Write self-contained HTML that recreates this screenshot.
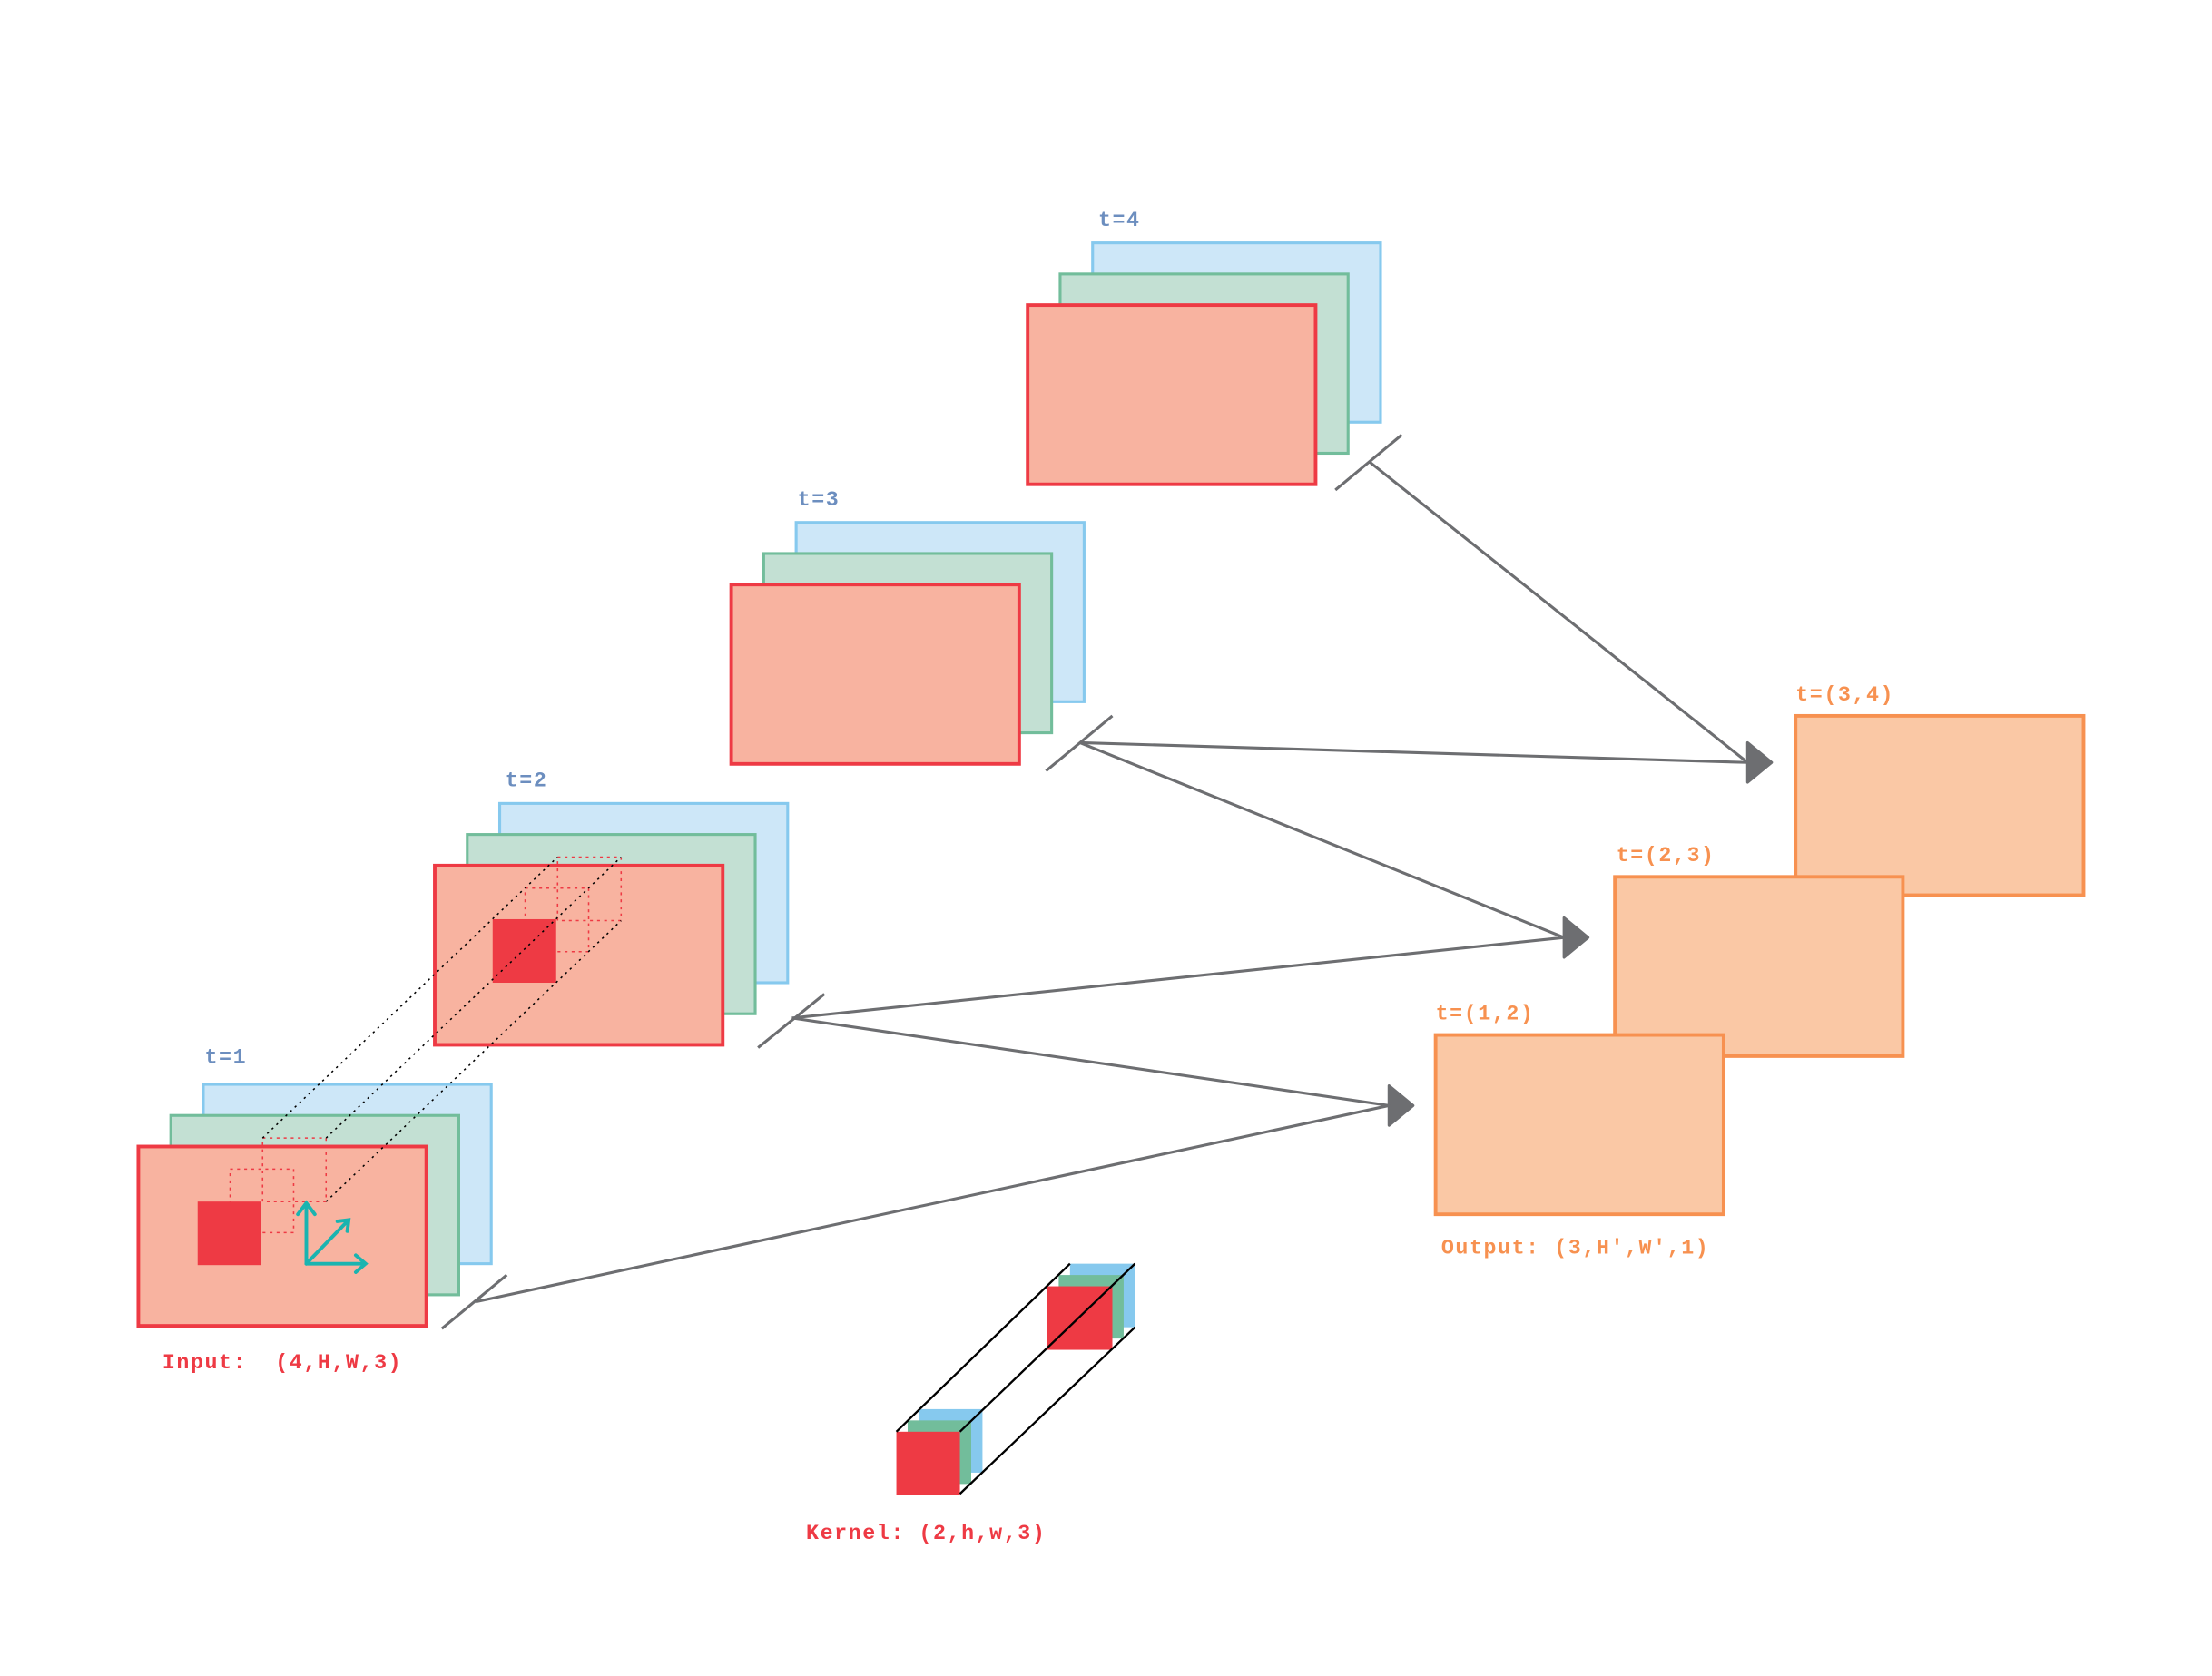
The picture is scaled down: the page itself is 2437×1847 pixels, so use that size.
<!DOCTYPE html>
<html><head><meta charset="utf-8"><style>
html,body{margin:0;padding:0;background:#fff;}
svg{display:block;}
text{font-family:"Liberation Mono",monospace;font-weight:bold;font-size:15px;letter-spacing:1px;}
</style></head><body>
<svg width="2437" height="1847" viewBox="0 0 1567 1187" preserveAspectRatio="none" xmlns="http://www.w3.org/2000/svg">
<defs>
<g id="stack">
<rect x="46" y="-44" width="204" height="127" fill="#cde7f8" stroke="#86c9ee" stroke-width="2"/>
<rect x="23" y="-22" width="204" height="127" fill="#c3e0d3" stroke="#72bd9b" stroke-width="2"/>
<rect x="0" y="0" width="204" height="127" fill="#f8b3a0" stroke="#ee3a44" stroke-width="2.5"/>
</g>
<g id="ah"><path d="M0,-14 L17,0 L0,14 Z" fill="#6d6e71" stroke="#6d6e71" stroke-width="2" stroke-linejoin="round"/></g>
</defs>
<use href="#stack" x="728" y="216"/>
<use href="#stack" x="518" y="414"/>
<use href="#stack" x="308" y="613"/>
<use href="#stack" x="98" y="812"/>
<text x="778" y="160" fill="#6c8ebf">t=4</text>
<text x="565" y="358" fill="#6c8ebf">t=3</text>
<text x="358" y="557" fill="#6c8ebf">t=2</text>
<text x="145" y="753" fill="#6c8ebf">t=1</text>
<rect x="140" y="851" width="45" height="45" fill="#ee3a44"/>
<g fill="none" stroke="#ee3a44" stroke-width="1" stroke-dasharray="2,3">
<rect x="163" y="828" width="45" height="45"/>
<rect x="186" y="806" width="45" height="45"/>
<rect x="372" y="629" width="45" height="45"/>
<rect x="395" y="607" width="45" height="45"/>
</g>
<rect x="349" y="651" width="45" height="45" fill="#ee3a44"/>
<g stroke="#000" stroke-width="1" stroke-dasharray="1.5,3">
<line x1="186" y1="806" x2="395" y2="607"/>
<line x1="231" y1="806" x2="440" y2="607"/>
<line x1="231" y1="851" x2="440" y2="652"/>
</g>
<g stroke="#1ab4b0" stroke-width="2.5" fill="none" stroke-linecap="round">
<path d="M217,895 L217,852 M211,860 L217,852 L223,860"/>
<path d="M217,895 L247,864 M239,865 L247,864 L246,872"/>
<path d="M217,895 L259,895 M252,889 L259,895 L252,901"/>
</g>
<g stroke="#6d6e71" stroke-width="2" fill="none">
<line x1="313" y1="941" x2="359" y2="903"/>
<line x1="537" y1="742" x2="584" y2="704"/>
<line x1="741" y1="546" x2="788" y2="507"/>
<line x1="946" y1="347" x2="993" y2="308"/>
<line x1="337" y1="922" x2="984" y2="783"/>
<line x1="561" y1="721" x2="984" y2="783"/>
<line x1="561" y1="721" x2="1108" y2="664"/>
<line x1="765" y1="526" x2="1108" y2="664"/>
<line x1="765" y1="526" x2="1238" y2="540"/>
<line x1="970" y1="327" x2="1238" y2="540"/>
</g>
<use href="#ah" x="984" y="783"/>
<use href="#ah" x="1108" y="664"/>
<use href="#ah" x="1238" y="540"/>
<g fill="#fac8a5" stroke="#f79150" stroke-width="2.5">
<rect x="1272" y="507" width="204" height="127"/>
<rect x="1144" y="621" width="204" height="127"/>
<rect x="1017" y="733" width="204" height="127"/>
</g>
<text x="1272" y="496" fill="#f79150">t=(3,4)</text>
<text x="1145" y="610" fill="#f79150">t=(2,3)</text>
<text x="1017" y="722" fill="#f79150">t=(1,2)</text>
<text x="1021" y="888" fill="#f79150">Output: (3,H',W',1)</text>
<text x="115" y="969" fill="#ee3a44">Input:&#160; (4,H,W,3)</text>
<rect x="758" y="895" width="46" height="45" fill="#86c9ee"/>
<rect x="750" y="903" width="46" height="45" fill="#72bd9b"/>
<rect x="742" y="911" width="46" height="45" fill="#ee3a44"/>
<rect x="651" y="998" width="45" height="45" fill="#86c9ee"/>
<rect x="643" y="1006" width="45" height="45" fill="#72bd9b"/>
<rect x="635" y="1014" width="45" height="45" fill="#ee3a44"/>
<g stroke="#000" stroke-width="1.5">
<line x1="635" y1="1014" x2="758" y2="895"/>
<line x1="680" y1="1014" x2="804" y2="895"/>
<line x1="680" y1="1058" x2="804" y2="940"/>
</g>
<text x="571" y="1090" fill="#ee3a44">Kernel: (2,h,w,3)</text>
</svg>
</body></html>
